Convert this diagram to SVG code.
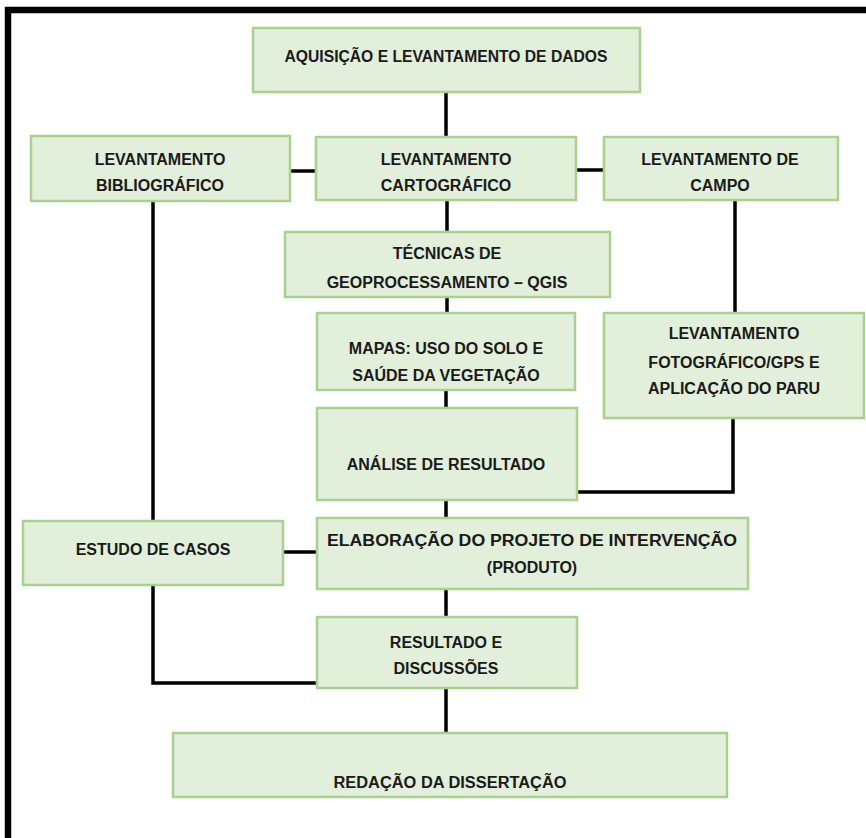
<svg xmlns="http://www.w3.org/2000/svg" width="866" height="838" viewBox="0 0 866 838">
<style>
.box{fill:#e2efda;stroke:#a9d18e;stroke-width:2.5}
.t{font-family:"Liberation Sans",Arial,sans-serif;font-weight:bold;font-size:16px;fill:#1a1a1a;text-anchor:middle}
.c{fill:none;stroke:#000;stroke-width:3.5}
.frame{fill:none;stroke:#000;stroke-width:6.5}
</style>
<rect width="866" height="838" fill="#fff"/>
<path class="frame" d="M8,840 V10 H870"/>
<g id="connectors">
<path class="c" d="M446,93 V137"/>
<path class="c" d="M290,171 H316"/>
<path class="c" d="M576,170 H604"/>
<path class="c" d="M447,200 V232"/>
<path class="c" d="M447,297 V313"/>
<path class="c" d="M735,200 V313"/>
<path class="c" d="M446,390 V408"/>
<path class="c" d="M733,418 V492 H577"/>
<path class="c" d="M446,500 V518"/>
<path class="c" d="M153,201 V521"/>
<path class="c" d="M283,552 H317"/>
<path class="c" d="M153,585 V683 H317"/>
<path class="c" d="M446,589 V617"/>
<path class="c" d="M446,688 V733"/>
</g>
<g id="aquisicao"><rect class="box" x="253" y="28" width="387" height="64"/><text class="t" x="446" y="62" textLength="323" lengthAdjust="spacingAndGlyphs">AQUISIÇÃO E LEVANTAMENTO DE DADOS</text></g>
<g id="bibliografico"><rect class="box" x="31" y="136" width="259" height="65"/><text class="t" x="160" y="165">LEVANTAMENTO</text><text class="t" x="160" y="191">BIBLIOGRÁFICO</text></g>
<g id="cartografico"><rect class="box" x="316" y="137" width="260" height="63"/><text class="t" x="446" y="165">LEVANTAMENTO</text><text class="t" x="446" y="191">CARTOGRÁFICO</text></g>
<g id="campo"><rect class="box" x="604" y="137" width="234" height="63"/><text class="t" x="720" y="165">LEVANTAMENTO DE</text><text class="t" x="720" y="191">CAMPO</text></g>
<g id="tecnicas"><rect class="box" x="285" y="232" width="325" height="65"/><text class="t" x="447" y="259">TÉCNICAS DE</text><text class="t" x="447" y="288">GEOPROCESSAMENTO – QGIS</text></g>
<g id="mapas"><rect class="box" x="317" y="313" width="258" height="77"/><text class="t" x="446" y="354">MAPAS: USO DO SOLO E</text><text class="t" x="446" y="381">SAÚDE DA VEGETAÇÃO</text></g>
<g id="fotografico"><rect class="box" x="604" y="313" width="260" height="105"/><text class="t" x="734" y="339">LEVANTAMENTO</text><text class="t" x="734" y="368">FOTOGRÁFICO/GPS E</text><text class="t" x="734" y="394">APLICAÇÃO DO PARU</text></g>
<g id="analise"><rect class="box" x="317" y="408" width="260" height="92"/><text class="t" x="446" y="470">ANÁLISE DE RESULTADO</text></g>
<g id="estudo"><rect class="box" x="23" y="521" width="260" height="64"/><text class="t" x="153" y="555">ESTUDO DE CASOS</text></g>
<g id="elaboracao"><rect class="box" x="317" y="518" width="431" height="71"/><text class="t" x="532" y="546" textLength="410" lengthAdjust="spacingAndGlyphs">ELABORAÇÃO DO PROJETO DE INTERVENÇÃO</text><text class="t" x="532" y="573">(PRODUTO)</text></g>
<g id="resultado"><rect class="box" x="317" y="617" width="260" height="71"/><text class="t" x="446" y="648">RESULTADO E</text><text class="t" x="446" y="674">DISCUSSÕES</text></g>
<g id="redacao"><rect class="box" x="173" y="733" width="554" height="64"/><text class="t" x="450" y="788" textLength="233" lengthAdjust="spacingAndGlyphs">REDAÇÃO DA DISSERTAÇÃO</text></g>
</svg>
